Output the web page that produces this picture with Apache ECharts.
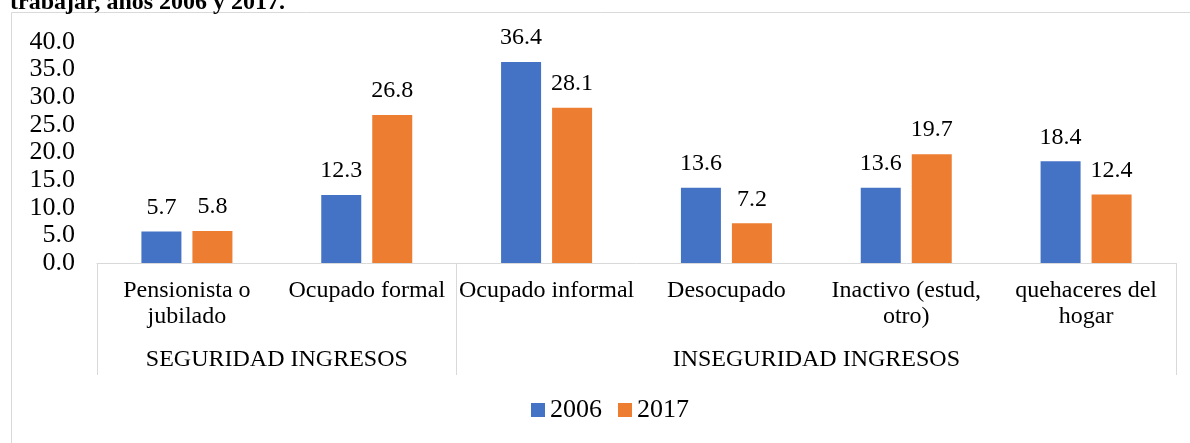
<!DOCTYPE html>
<html>
<head>
<meta charset="utf-8">
<script src="https://cdn.jsdelivr.net/npm/echarts@6/dist/echarts.min.js"></script>
<style>
html,body{margin:0;padding:0;background:#fff;}
#chart{width:1190px;height:443px;}
</style>
</head>
<body>
<div id="chart"></div>
<script>
const titleText = 'trabajar, años 2006 y 2017.';
const categories = ['Pensionista o\njubilado', 'Ocupado formal', 'Ocupado informal', 'Desocupado', 'Inactivo (estud,\notro)', 'quehaceres del\nhogar'];
const groupNames = ['SEGURIDAD INGRESOS', 'INSEGURIDAD INGRESOS'];
const groupSizes = [2, 4];
const seriesNames = ['2006', '2017'];
const values2006 = [5.7, 12.3, 36.4, 13.6, 13.6, 18.4];
const values2017 = [5.8, 26.8, 28.1, 7.2, 19.7, 12.4];
const yTicks = [0, 5, 10, 15, 20, 25, 30, 35, 40];

const FONT = '"Liberation Serif", "Times New Roman", serif';

// group boundaries and centers derived from sizes
const groupBounds = [0];
const groupCenters = [];
groupSizes.forEach((s, i) => {
  groupCenters.push(groupBounds[i] + s / 2);
  groupBounds.push(groupBounds[i] + s);
});

const chart = echarts.init(document.getElementById('chart'));
const labelStyle = {show: true, position: 'top', distance: 12, color: '#000', fontFamily: FONT, fontSize: 24,
  formatter: p => p.value.toFixed(1)};

chart.setOption({
  animation: false,
  textStyle: {fontFamily: FONT},
  graphic: [
    {type: 'rect', shape: {x: 11.5, y: 12.5, width: 1300, height: 600}, style: {fill: null, stroke: '#d9d9d9', lineWidth: 1}},
    {type: 'text', left: 10, top: -9, style: {text: titleText, font: 'bold 24px ' + FONT, fill: '#000'}}
  ],
  legend: {
    data: seriesNames, left: 526, top: 392, itemWidth: 14, itemHeight: 14, itemGap: 16,
    icon: 'rect',
    textStyle: {fontFamily: FONT, fontSize: 26, color: '#000'}
  },
  grid: {left: 97, right: 14, top: 42, bottom: 180, containLabel: false},
  xAxis: [
    {
      type: 'category', data: categories, position: 'bottom',
      axisLine: {show: true, lineStyle: {color: '#d9d9d9', width: 1}},
      axisTick: {show: false},
      axisLabel: {interval: 0, color: '#000', fontFamily: FONT, fontSize: 24, lineHeight: 26, margin: 15}
    },
    {
      type: 'value', min: 0, max: groupBounds[groupBounds.length - 1], position: 'bottom', offset: 0,
      splitLine: {show: false},
      axisLine: {show: false},
      axisTick: {show: true, customValues: groupBounds, length: 112, lineStyle: {color: '#d9d9d9', width: 1}},
      axisLabel: {show: true, customValues: groupCenters, margin: 85, color: '#000', fontFamily: FONT, fontSize: 24,
        formatter: v => { const i = groupCenters.indexOf(v); return i >= 0 ? groupNames[i] : ''; }}
    }
  ],
  yAxis: {
    type: 'value', min: yTicks[0], max: yTicks[yTicks.length - 1], interval: yTicks[1] - yTicks[0],
    axisLine: {show: false}, axisTick: {show: false}, splitLine: {show: false},
    axisLabel: {color: '#000', fontFamily: FONT, fontSize: 26, margin: 22, formatter: v => v.toFixed(1)}
  },
  series: [
    {name: seriesNames[0], type: 'bar', xAxisIndex: 0, data: values2006, barWidth: 40, barGap: '27.5%',
      itemStyle: {color: '#4472C4'}, label: labelStyle},
    {name: seriesNames[1], type: 'bar', xAxisIndex: 0, data: values2017, barWidth: 40, barGap: '27.5%',
      itemStyle: {color: '#ED7D31'}, label: labelStyle}
  ]
});
</script>
</body>
</html>
